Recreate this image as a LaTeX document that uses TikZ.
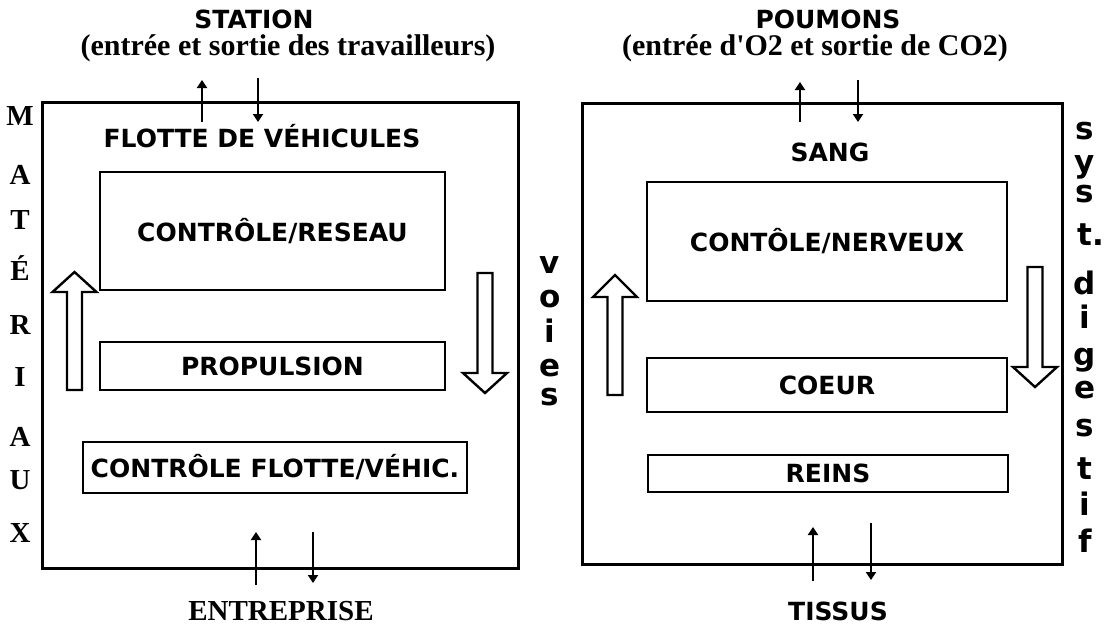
\documentclass[tikz,border=0pt]{standalone}
\usepackage{fontspec}
\setmainfont{Liberation Serif}
\setsansfont{DejaVu Sans}
\usepackage{tikz}
\usetikzlibrary{arrows.meta,positioning}

\begin{document}
\begin{tikzpicture}[x=0.5pt, y=-0.5pt,
    lbl/.style={font=\sffamily\bfseries\fontsize{12.5}{15}\selectfont, inner sep=0pt},
    paren/.style={font=\rmfamily\bfseries\fontsize{15}{17}\selectfont, inner sep=0pt},
    slab/.style={font=\rmfamily\bfseries\fontsize{14.5}{16}\selectfont, inner sep=0pt,
                 text height=9.5pt, text depth=0pt},
    letter/.style={font=\sffamily\bfseries\fontsize{15.5}{18}\selectfont, inner sep=0pt,
                   text height=9pt, text depth=0pt},
    frame/.style={draw, line width=1.5pt, inner sep=0pt},
    organ/.style={draw, line width=1.3pt, inner sep=0pt,
                  font=\sffamily\bfseries\fontsize{12.5}{15}\selectfont},
    flow/.style={line width=1.1pt, -{Triangle[width=5pt,length=4pt]}},
    hollow/.style={draw, line width=1.2pt, line join=miter}]
  \useasboundingbox (0,0) rectangle (1107,629);

  % left: the fleet
  \node[lbl] (station) at (254,19) {STATION};
  \node[paren] (station-io) at (288,48) {(entrée et sortie des travailleurs)};
  \node[frame, minimum width=238pt, minimum height=233pt] (flotte) at (280,335) {};
  \node[lbl] (flotte-lbl) at (262,136) {FLOTTE DE VÉHICULES};
  \node[organ, minimum width=172.5pt, minimum height=59pt] (reseau) at (272.5,231) {CONTRÔLE/RESEAU};
  \node[organ, minimum width=172.5pt, minimum height=24pt] (propulsion) at (272.5,366) {PROPULSION};
  \node[organ, minimum width=192pt, minimum height=25.5pt] (vehic) at (275,467.5) {CONTRÔLE FLOTTE/VÉHIC.};
  \node[slab] (entreprise) at (281,611) {ENTREPRISE};

  % right: the body
  \node[lbl] (poumons) at (828,19) {POUMONS};
  \node[paren] (poumons-io) at (815,48) {(entrée d\textquotesingle O2 et sortie de CO2)};
  \node[frame, minimum width=240pt, minimum height=230.5pt] (corps) at (822,333.5) {};
  \node[lbl] (sang) at (830,152) {SANG};
  \node[organ, minimum width=180pt, minimum height=59.5pt] (nerveux) at (827,241.5) {CONTÔLE/NERVEUX};
  \node[organ, minimum width=180pt, minimum height=27pt] (coeur) at (827,385) {COEUR};
  \node[organ, minimum width=180pt, minimum height=18.5pt] (reins) at (828,473.5) {REINS};
  \node[lbl] (tissus) at (838,611) {TISSUS};

  % vertical words
  \foreach \l/\y [count=\i] in {M/116, A/175, T/220, É/271, R/325, I/377, A/437, U/480, X/533}
    \node[slab] (mat\i) at (20,\y) {\l};
  \foreach \l/\y [count=\i] in {v/264, o/298, i/333, e/367, s/396}
    \node[letter] (voie\i) at (550,\y) {\l};
  \foreach \l/\y [count=\i] in {s/130, y/163, s/193, t\rlap{.}/236, d/285, i/319, g/356,
                                e/389, s/427, t/470, i/506, f/543}
    \node[letter] (dig\i) at (1085,\y) {\l};

  % in and out
  \foreach \n/\x/\ya/\yb in {stup/202/122/80, stdn/258/78/122, enup/256/585/532, endn/313/532/583,
                             poup/800/122/82, podn/858/80/122, tiup/813/581/527, tidn/871/523/580} {
    \coordinate (\n-a) at (\x,\ya);
    \coordinate (\n-b) at (\x,\yb);
    \draw[flow] (\n-a) -- (\n-b);
  }

  % hollow cycle arrows
  \foreach \ax/\atip/\abase/\atail in {74.5/272/292/390, 485/393/373/273,
                                       615/275/297/395, 1035/387/367/267}
    \draw[hollow] (\ax-7.5,\atail) -- (\ax-7.5,\abase) -- (\ax-22,\abase) -- (\ax,\atip)
      -- (\ax+22,\abase) -- (\ax+7.5,\abase) -- (\ax+7.5,\atail) -- cycle;
\end{tikzpicture}
\end{document}
